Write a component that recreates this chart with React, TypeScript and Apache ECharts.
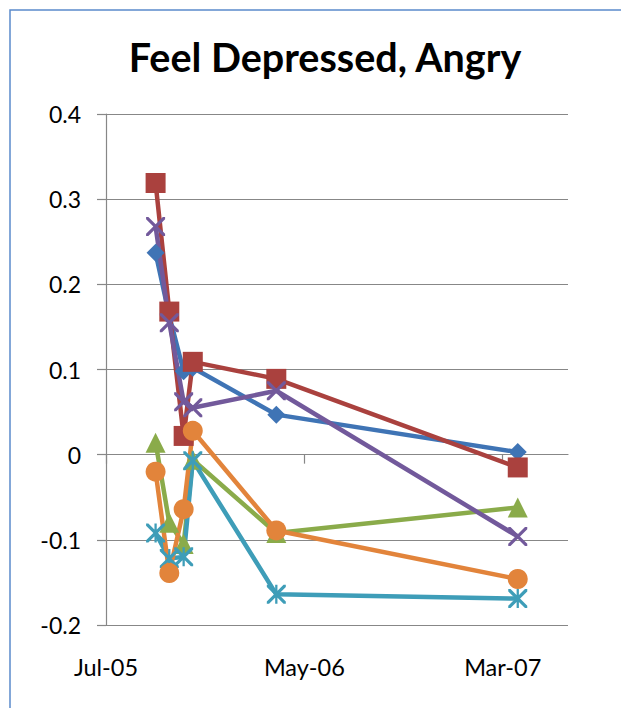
import React, { useEffect, useRef } from 'react';
import * as echarts from 'echarts';

// ---- data ----
const AXIS_START = '2005-07-01';
const AXIS_END = '2007-06-09';
const TICK_DATES = ['2005-07-01', '2006-05-01', '2007-03-01'];
const TICK_LABELS = ['Jul-05', 'May-06', 'Mar-07'];
const SURVEY_DATES = ['2005-09-15', '2005-10-06', '2005-10-28', '2005-11-11', '2006-03-19', '2007-03-24'];
const Y_TICKS = [-0.2, -0.1, 0, 0.1, 0.2, 0.3, 0.4];

const SERIES_NAMES = ['Series1', 'Series2', 'Series3', 'Series4', 'Series5', 'Series6'];
const S1_BLUE = [0.237, 0.163, 0.098, 0.102, 0.047, 0.003];
const S2_RED = [0.319, 0.168, 0.022, 0.109, 0.089, -0.015];
const S3_GREEN = [0.014, -0.08, -0.105, -0.006, -0.092, -0.062];
const S4_PURPLE = [0.268, 0.155, 0.062, 0.055, 0.075, -0.096];
const S5_TEAL = [-0.092, -0.122, -0.12, -0.007, -0.164, -0.169];
const S6_ORANGE = [-0.02, -0.139, -0.064, 0.028, -0.089, -0.146];

const DAY = 86400000;
const dayOffset = (d: string) => (Date.parse(d + 'T00:00:00Z') - Date.parse(AXIS_START + 'T00:00:00Z')) / DAY;

const X_PATH =
  'path://M0,0 L2.4,0 L20,17.6 L20,20 L17.6,20 L0,2.4 Z M17.6,0 L20,0 L20,2.4 L2.4,20 L0,20 L0,17.6 Z';
const STAR_PATH = X_PATH + ' M8.8,0 L11.2,0 L11.2,20 L8.8,20 Z';

const FONT = 'Lato, "Open Sans", sans-serif';

export default function App() {
  const ref = useRef<HTMLDivElement>(null);
  useEffect(() => {
    if (!ref.current) return;
    const chart = echarts.init(ref.current, undefined, { renderer: 'svg' });
    const xs = SURVEY_DATES.map(dayOffset);
    const tickVals = TICK_DATES.map(dayOffset);
    const mk = (
      name: string,
      vals: number[],
      color: string,
      symbol: string,
      size: number
    ) => ({
      name,
      type: 'line',
      data: vals.map((v, i) => [xs[i], v]),
      symbol,
      symbolSize: size,
      showAllSymbol: true,
      clip: false,
      lineStyle: { color, width: 4.5 },
      itemStyle: { color, borderWidth: 0 },
      emphasis: { disabled: true },
    });
    const gray = '#878787';
    chart.setOption({
      animation: false,
      backgroundColor: '#ffffff',
      title: {
        text: 'Feel Depressed, Angry',
        left: 320,
        top: 31,
        textAlign: 'center',
        textStyle: { fontFamily: FONT, fontWeight: 'bold', fontSize: 39.5, color: '#000' },
      },
      graphic: [
        {
          type: 'rect',
          shape: { x: 10, y: 10, width: 900, height: 900 },
          style: { fill: 'none', stroke: '#5b8bcb', lineWidth: 1.5 },
          silent: true,
        },
      ],
      grid: { left: 106, right: 53, top: 114, bottom: 83, containLabel: false },
      xAxis: [
        {
          type: 'value',
          min: 0,
          max: dayOffset(AXIS_END),
          axisLine: { show: true, onZero: true, lineStyle: { color: gray, width: 1.2 } },
          axisTick: { show: true, length: 9, customValues: tickVals, lineStyle: { color: gray, width: 1.2 } },
          axisLabel: { show: false },
          splitLine: { show: false },
        },
        {
          type: 'value',
          position: 'bottom',
          min: 0,
          max: dayOffset(AXIS_END),
          axisLine: { show: false, onZero: false },
          axisTick: { show: false },
          splitLine: { show: false },
          axisLabel: {
            show: true,
            margin: 30,
            customValues: tickVals,
            fontFamily: FONT,
            fontSize: 23.5,
            color: '#000',
            formatter: (v: number) => {
              const i = tickVals.findIndex((t) => Math.abs(t - v) < 0.5);
              return i >= 0 ? TICK_LABELS[i] : '';
            },
          },
        },
      ],
      yAxis: {
        type: 'value',
        min: Y_TICKS[0],
        max: Y_TICKS[Y_TICKS.length - 1],
        interval: 0.1,
        axisLine: { show: true, lineStyle: { color: gray, width: 1.2 } },
        axisTick: { show: true, length: 9, lineStyle: { color: gray, width: 1.2 } },
        splitLine: { show: true, lineStyle: { color: gray, width: 1.2 } },
        axisLabel: {
          margin: 25,
          fontFamily: FONT,
          fontSize: 23,
          color: '#000',
          formatter: (v: number) => {
            const r = Math.round(v * 10) / 10;
            return r === 0 ? '0' : r.toFixed(1);
          },
        },
      },
      series: [
        mk(SERIES_NAMES[0], S1_BLUE, '#3f74b5', 'diamond', 18),
        mk(SERIES_NAMES[1], S2_RED, '#aa413e', 'rect', 20),
        mk(SERIES_NAMES[2], S3_GREEN, '#8aab4a', 'triangle', 20),
        mk(SERIES_NAMES[3], S4_PURPLE, '#72599b', X_PATH, 19),
        mk(SERIES_NAMES[4], S5_TEAL, '#3e9db8', STAR_PATH, 19),
        mk(SERIES_NAMES[5], S6_ORANGE, '#e2843b', 'circle', 20),
      ],
    });
    return () => chart.dispose();
  }, []);
  return (
    <div
      ref={ref}
      style={{ position: 'fixed', left: 0, top: 0, width: 621, height: 708 }}
    />
  );
}
